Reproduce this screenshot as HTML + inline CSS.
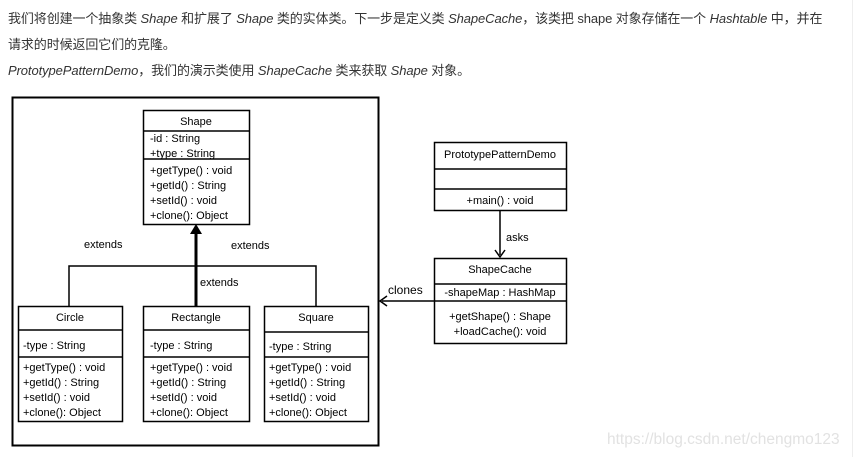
<!DOCTYPE html>
<html><head><meta charset="utf-8"><style>
html,body{margin:0;padding:0;background:#fff;width:853px;height:457px;overflow:hidden}
.p{position:absolute;left:8px;font:13px "Liberation Sans","Noto Sans CJK SC",sans-serif;color:#333;white-space:nowrap;letter-spacing:-0.1px}
i{font-style:italic}
</style></head><body>
<div class="p" style="top:8px">我们将创建一个抽象类 <i>Shape</i> 和扩展了 <i>Shape</i> 类的实体类。下一步是定义类 <i>ShapeCache</i>，该类把 shape 对象存储在一个 <i>Hashtable</i> 中，并在</div>
<div class="p" style="top:34px">请求的时候返回它们的克隆。</div>
<div class="p" style="top:60px"><i>PrototypePatternDemo</i>，我们的演示类使用 <i>ShapeCache</i> 类来获取 <i>Shape</i> 对象。</div>
<div style="position:absolute;left:852px;top:0;width:1px;height:457px;background:#eee"></div>
<svg width="853" height="457" style="position:absolute;left:0;top:0" font-family="Liberation Sans, sans-serif" font-size="11" fill="#000">
<g fill="none" stroke="#000">
<rect x="12.5" y="97.5" width="366" height="348" stroke-width="2"/>
<rect x="143.5" y="110.5" width="106" height="114" stroke-width="1.5"/>
<line x1="143" y1="131" x2="250" y2="131" stroke-width="1.5"/>
<line x1="143" y1="159" x2="250" y2="159" stroke-width="1.5"/>
<rect x="18.5" y="306.5" width="104" height="115" stroke-width="1.5"/>
<line x1="18" y1="330" x2="123" y2="330" stroke-width="1.5"/>
<line x1="18" y1="357" x2="123" y2="357" stroke-width="1.5"/>
<rect x="143.5" y="306.5" width="106" height="115" stroke-width="1.5"/>
<line x1="143" y1="330" x2="250" y2="330" stroke-width="1.5"/>
<line x1="143" y1="357" x2="250" y2="357" stroke-width="1.5"/>
<rect x="264.5" y="306.5" width="104" height="115" stroke-width="1.5"/>
<line x1="264" y1="332" x2="369" y2="332" stroke-width="1.5"/>
<line x1="264" y1="357" x2="369" y2="357" stroke-width="1.5"/>
<polyline points="69,306 69,266 316,266 316,306" stroke-width="1.5"/>
<line x1="196" y1="306" x2="196" y2="232" stroke-width="3"/>
<rect x="434.5" y="142.5" width="132" height="68" stroke-width="1.5"/>
<line x1="434" y1="169" x2="567" y2="169" stroke-width="1.5"/>
<line x1="434" y1="189" x2="567" y2="189" stroke-width="1.5"/>
<rect x="434.5" y="258.5" width="132" height="85" stroke-width="1.5"/>
<line x1="434" y1="284" x2="567" y2="284" stroke-width="1.5"/>
<line x1="434" y1="301" x2="567" y2="301" stroke-width="1.5"/>
<line x1="500" y1="211" x2="500" y2="255" stroke-width="1.5"/>
<line x1="434" y1="301" x2="382" y2="301" stroke-width="1.5"/>
<polyline points="495,250 500,257 505,250" stroke-width="1.5"/>
<polyline points="387,296 380,301 387,306" stroke-width="1.5"/>
</g>
<polygon points="196,224 190,234 202,234"/>
<g text-anchor="middle">
<text x="196" y="125">Shape</text>
<text x="70" y="321">Circle</text>
<text x="196" y="321">Rectangle</text>
<text x="316" y="321">Square</text>
<text x="500" y="158">PrototypePatternDemo</text>
<text x="500" y="204">+main() : void</text>
<text x="500" y="273">ShapeCache</text>
<text x="500" y="296">-shapeMap : HashMap</text>
<text x="500" y="320">+getShape() : Shape</text>
<text x="500" y="335">+loadCache(): void</text>
</g>
<g>
<text x="150" y="142">-id : String</text>
<text x="150" y="157">+type : String</text>
<text x="150" y="174">+getType() : void</text>
<text x="150" y="189">+getId() : String</text>
<text x="150" y="204">+setId() : void</text>
<text x="150" y="219">+clone(): Object</text>
<text x="23" y="349">-type : String</text>
<text x="23" y="371">+getType() : void</text>
<text x="23" y="386">+getId() : String</text>
<text x="23" y="401">+setId() : void</text>
<text x="23" y="416">+clone(): Object</text>
<text x="150" y="349">-type : String</text>
<text x="150" y="371">+getType() : void</text>
<text x="150" y="386">+getId() : String</text>
<text x="150" y="401">+setId() : void</text>
<text x="150" y="416">+clone(): Object</text>
<text x="269" y="350">-type : String</text>
<text x="269" y="371">+getType() : void</text>
<text x="269" y="386">+getId() : String</text>
<text x="269" y="401">+setId() : void</text>
<text x="269" y="416">+clone(): Object</text>
<text x="84" y="248">extends</text>
<text x="231" y="249">extends</text>
<text x="200" y="286">extends</text>
<text x="506" y="241">asks</text>
<text x="388" y="294" font-size="12">clones</text>
</g>
<text x="607" y="444" font-size="15.5" fill="#e2e2e2">https://blog.csdn.net/chengmo123</text>
</svg>
</body></html>
